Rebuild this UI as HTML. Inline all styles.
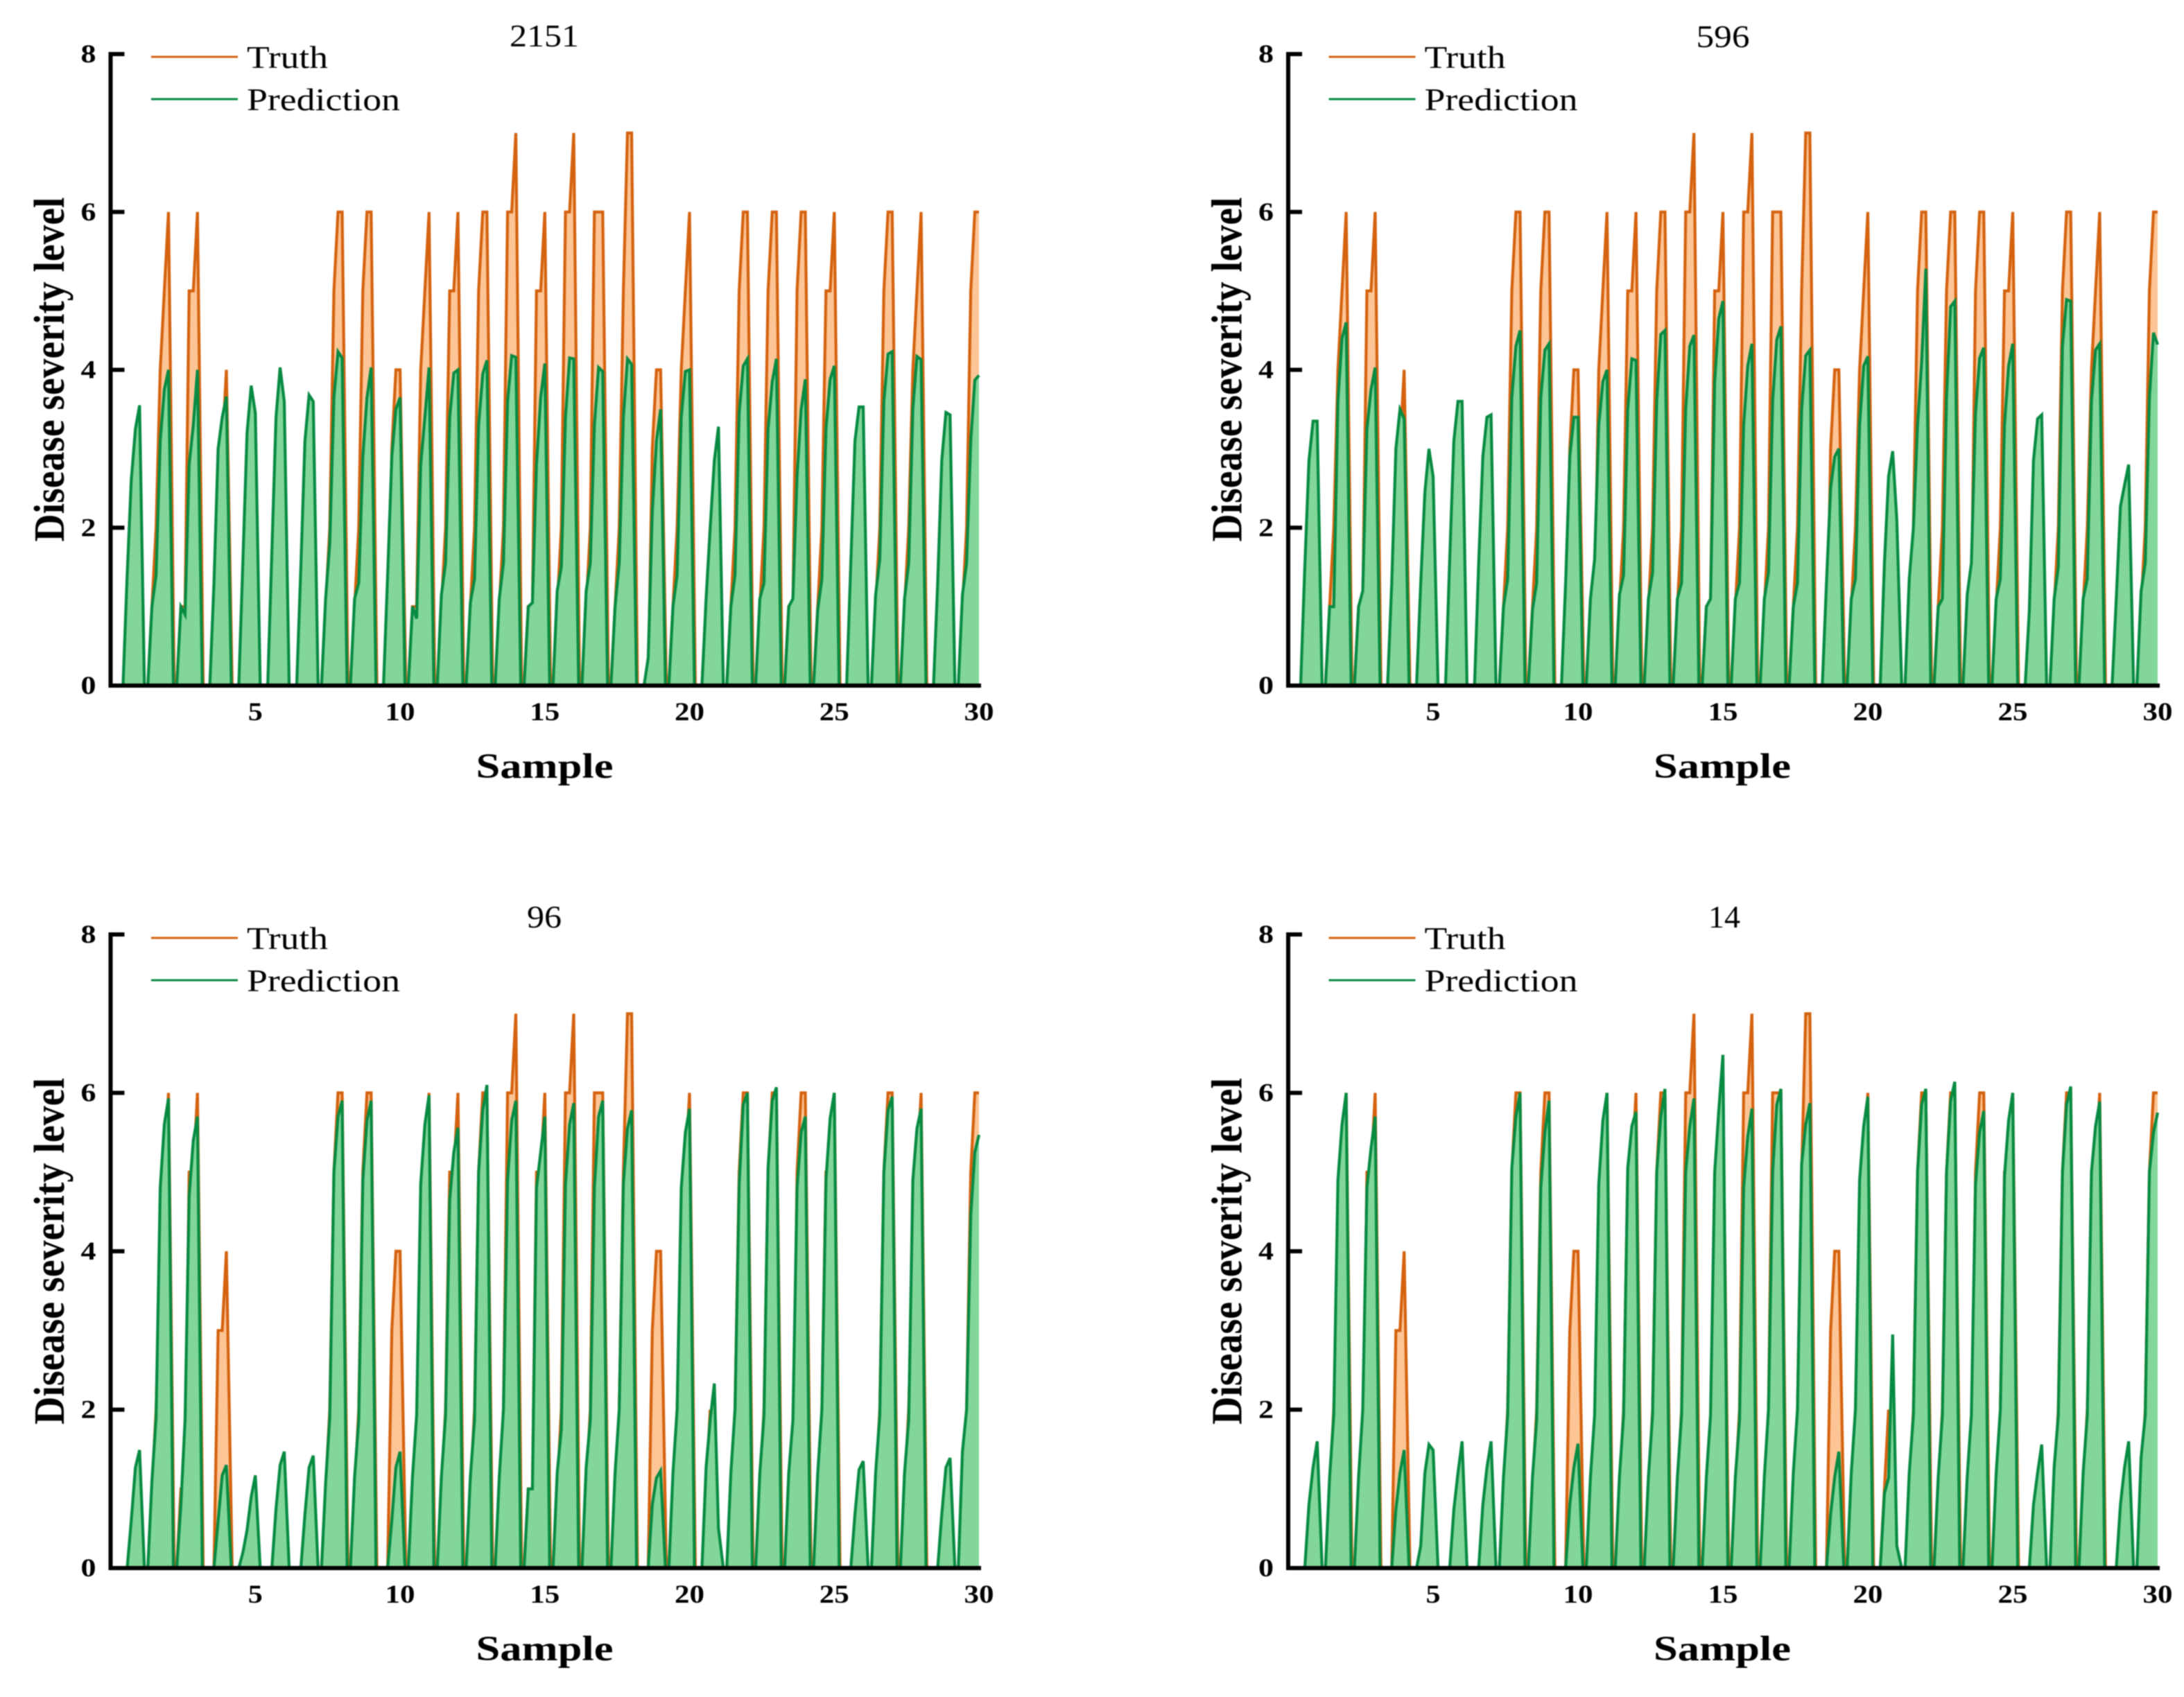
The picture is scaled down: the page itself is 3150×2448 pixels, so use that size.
<!DOCTYPE html>
<html lang="en">
<head>
<meta charset="utf-8">
<title>Disease severity level: truth vs prediction</title>
<style>
html,body{margin:0;padding:0;background:#fff;width:3150px;height:2448px;overflow:hidden}
#chart-root{display:block;filter:blur(0.8px)}
text{font-family:"Liberation Serif",serif;fill:#000}
</style>
</head>
<body>
<svg id="chart-root" xmlns="http://www.w3.org/2000/svg" width="3150" height="2448" viewBox="0 0 3150 2448"></svg>
<script>
// Values per sample at sub-steps -5,-4,-3,-2,-1,0 relative to the sample number.
const panelTitles = ["2151", "596", "96", "14"];
const xTickValues = [5, 10, 15, 20, 25, 30];
const yTickValues = [0, 2, 4, 6, 8];
const legendLabels = ["Truth", "Prediction"];
const xAxisLabel = "Sample";
const yAxisLabel = "Disease severity level";

const truthLevels = [
[0,0,0,0,0,0],[0,1,2,4,5,6],[0,1,1,5,5,6],[0,0,0,3,3,4],[0,0,0,0,0,0],[0,0,0,0,0,0],
[0,0,0,0,0,0],[0,1,2,5,6,6],[0,1,2,5,6,6],[0,0,0,3,4,4],[0,1,1,4,5,6],[0,1,2,5,5,6],
[0,1,2,5,6,6],[0,1,2,6,6,7],[0,1,1,5,5,6],[0,1,2,6,6,7],[0,1,2,6,6,6],[0,1,2,5,7,7],
[0,0,0,3,4,4],[0,1,2,4,5,6],[0,0,1,2,0,0],[0,1,2,5,6,6],[0,1,2,5,6,6],[0,1,1,5,6,6],
[0,1,2,5,5,6],[0,0,0,0,0,0],[0,1,2,5,6,6],[0,1,2,4,5,6],[0,0,0,0,0,0],[0,1,2,5,6,6]
];

const prediction2151 = [
[0,0,1.4,2.6,3.25,3.55],[0,1,1.4,3.1,3.75,4],[0,1,.9,2.8,3.3,4],[0,0,1.3,3,3.4,3.66],[0,0,1.6,3.2,3.8,3.45],[0,0,1.7,3.4,4.03,3.6],
[0,0,1.5,3.1,3.68,3.6],[0,1.1,1.8,3.65,4.23,4.15],[0,1.1,1.3,2.9,3.65,4.03],[0,0,1.4,2.9,3.5,3.65],[0,1,.85,2.8,3.4,4.03],[0,1.15,1.55,3.4,3.96,4],
[0,1.05,1.35,3.3,3.95,4.12],[0,1.1,1.55,3.6,4.18,4.16],[0,1,1.05,2.8,3.65,4.08],[0,1.2,1.5,3.4,4.15,4.14],[0,1.2,1.55,3.3,4.03,3.98],[0,1,1.55,3.4,4.14,4.07],
[0,0,.35,2.2,3.1,3.5],[0,1,1.4,3.4,3.98,4],[0,0,1.1,2,2.85,3.28],[0,1,1.4,3.45,4.05,4.14],[0,1.1,1.3,3.25,3.85,4.14],[0,1,1.1,2.65,3.5,3.88],
[0,.96,1.35,3.25,3.88,4.05],[0,0,1.55,3.1,3.53,3.53],[0,1.15,1.6,3.6,4.2,4.23],[0,1.1,1.55,3.5,4.17,4.13],[0,0,1.3,2.85,3.46,3.43],[0,1.15,1.55,3.1,3.87,3.93]
];

const prediction596 = [
[0,0,1.5,2.85,3.35,3.35],[0,1,1,3.6,4.4,4.6],[0,1,1.2,3.25,3.75,4.03],[0,0,1.3,3,3.5,3.38],[0,0,1.3,2.45,3,2.65],[0,0,1.6,3.1,3.6,3.6],
[0,0,1.55,2.9,3.4,3.43],[0,1,1.35,3.65,4.3,4.5],[0,.96,1.3,3.65,4.25,4.33],[0,0,1.3,2.9,3.4,3.4],[0,1.1,1.6,3.3,3.85,4],[0,1.15,1.4,3.5,4.14,4.12],
[0,1.1,1.43,3.6,4.45,4.5],[0,1.1,1.3,3.5,4.3,4.44],[0,1,1.1,3.85,4.65,4.87],[0,1.1,1.3,3.3,4.05,4.33],[0,1.1,1.43,3.6,4.38,4.55],[0,1,1.3,3.5,4.18,4.25],
[0,0,1.3,2.5,2.9,3],[0,1.1,1.35,3.3,4.05,4.17],[0,0,1.55,2.65,2.97,2.1],[0,1.35,2,3.3,4.1,5.28],[0,1,1.1,3.65,4.8,4.87],[0,1.15,1.55,3.45,4.15,4.28],
[0,1.1,1.35,3.3,4.05,4.33],[0,0,.95,2.85,3.38,3.43],[0,1.1,1.5,4.3,4.89,4.87],[0,1.1,1.35,3.6,4.25,4.33],[0,0,1.1,2.27,2.54,2.8],[0,1.2,1.55,3.65,4.47,4.32]
];

const prediction96 = [
[0,0,0,.6,1.27,1.49],[0,1.1,1.9,4.8,5.6,5.93],[0,.8,1.87,4.7,5.4,5.7],[0,0,0,.6,1.17,1.3],[0,0,.2,.48,.9,1.17],[0,0,0,.75,1.3,1.47],
[0,0,0,.68,1.27,1.42],[0,1.07,1.9,5,5.7,5.9],[0,1.15,1.87,4.9,5.65,5.9],[0,0,0,.6,1.27,1.47],[0,1.15,1.93,4.85,5.6,5.97],[0,1.15,1.93,4.65,5.25,5.56],
[0,1.15,1.87,5,5.78,6.1],[0,1.15,2,4.9,5.65,5.9],[0,1,1,4.8,5.25,5.7],[0,1.2,1.75,4.85,5.6,5.87],[0,1.27,1.87,4.8,5.7,5.9],[0,1.2,2,4.85,5.55,5.78],
[0,0,0,.8,1.14,1.23],[0,1.2,2,4.8,5.5,5.8],[0,0,1.27,1.87,2.33,.5],[0,1.2,2,4.85,5.85,6],[0,1.2,1.93,5.05,5.9,6.07],[0,1.2,1.87,4.8,5.5,5.7],
[0,1.2,2,4.9,5.68,6],[0,0,0,.68,1.24,1.35],[0,1.2,1.93,5,5.78,5.95],[0,1.2,1.87,4.9,5.55,5.8],[0,0,0,.68,1.27,1.39],[0,1.47,2,4.45,5.25,5.47]
];

const prediction14 = [
[0,0,0,.8,1.27,1.6],[0,1.15,1.93,4.9,5.6,6],[0,1.15,2,4.8,5.3,5.7],[0,0,0,.74,1.2,1.49],[0,0,.28,1.2,1.56,1.49],[0,0,0,.74,1.2,1.6],
[0,0,0,.8,1.27,1.6],[0,1.15,1.93,5.05,5.7,6],[0,1.15,1.87,4.8,5.5,5.9],[0,0,0,.8,1.27,1.57],[0,1.15,1.93,4.85,5.65,6],[0,1.15,1.93,5.05,5.58,5.76],
[0,1.15,1.93,5,5.7,6.05],[0,1.15,1.93,5,5.58,5.93],[0,1.15,1.93,5,5.78,6.48],[0,1.15,1.87,4.8,5.45,5.8],[0,1.15,2,5,5.85,6.05],[0,1.2,2,5.1,5.6,5.87],
[0,0,0,.68,1.15,1.47],[0,1.2,2,4.9,5.58,5.95],[0,0,.94,1.14,2.95,.28],[0,1.2,1.93,5,5.85,6.05],[0,1.15,1.93,5,5.9,6.14],[0,1.15,1.93,4.85,5.5,5.77],
[0,1.2,2,4.95,5.65,6],[0,0,0,.8,1.2,1.56],[0,1.27,1.93,5,5.85,6.08],[0,1.2,1.93,5,5.58,5.89],[0,0,0,.8,1.27,1.6],[0,1.4,1.93,5,5.5,5.75]
];

const predictionSets = [prediction2151, prediction596, prediction96, prediction14];
const subStepOffsets = [-5, -4, -3, -2, -1, 0];

const SVGNS = "http://www.w3.org/2000/svg";
const root = document.getElementById("chart-root");
const SUB_STEP = 1 / 7;
const TRUTH_FALL = 0.2;
const PRED_FALL = 0.17;
const ORANGE_LINE = "#d4620f";
const ORANGE_FILL = "#fdc595";
const GREEN_LINE = "#078a42";
const GREEN_FILL = "#82d69a";

// Plot frames: left = x-axis value 0, right = x-axis value 30, top = y 8, bottom = y 0.
const frames = [
  {left:159.5, right:1412, top:78, bottom:989, dx:0, dy:0, titleX:785, titleW:100, titleY:67, yTitleY:533, yTitleLen:497},
  {left:1858, right:3112, top:78, bottom:989, dx:1698.5, dy:0, titleX:2485, titleW:77, titleY:68, yTitleY:533, yTitleLen:497},
  {left:159.5, right:1412, top:1348, bottom:2262, dx:0, dy:1271, titleX:785, titleW:50, titleY:1338, yTitleY:1805, yTitleLen:500},
  {left:1858, right:3112, top:1348, bottom:2262, dx:1698.5, dy:1271, titleX:2487, titleW:46, titleY:1338, yTitleY:1805, yTitleLen:500}
];

function make(tag, attrs, parent) {
  const node = document.createElementNS(SVGNS, tag);
  for (const key in attrs) node.setAttribute(key, attrs[key]);
  parent.appendChild(node);
  return node;
}

function seriesPoints(row, sample, fall, xScale, yScale) {
  let first = row.findIndex(v => v > 0);
  if (first < 0) return null;
  first = Math.max(first - 1, 0);
  const pts = [];
  for (let i = first; i < row.length; i++) {
    pts.push([xScale(sample + subStepOffsets[i] * SUB_STEP), yScale(row[i])]);
  }
  if (sample < 30) pts.push([xScale(sample + fall), yScale(0)]);
  return pts;
}

function drawSeries(group, rows, fall, fillColour, lineColour, seriesName, xScale, yScale) {
  rows.forEach((row, idx) => {
    const sample = idx + 1;
    const pts = seriesPoints(row, sample, fall, xScale, yScale);
    if (!pts) return;
    const line = pts.map(p => p[0].toFixed(1) + "," + p[1].toFixed(1)).join(" ");
    const last = pts[pts.length - 1];
    const area = make("polygon", {points: line + " " + last[0].toFixed(1) + "," + yScale(0) + " " + pts[0][0].toFixed(1) + "," + yScale(0), fill: fillColour, stroke: "none"}, group);
    
    
    const stroke = make("polyline", {points: line, fill: "none", stroke: lineColour, "stroke-width": 4.2, "stroke-linejoin": "miter"}, group);
    
    
  });
}

frames.forEach((f, p) => {
  const xScale = v => f.left + (f.right - f.left) * v / 30;
  const yScale = v => f.bottom - (f.bottom - f.top) * v / 8;

  const panel = make("g", {}, root);
  
  

  const truthGroup = make("g", {}, panel);
  
  
  drawSeries(truthGroup, truthLevels, TRUTH_FALL, ORANGE_FILL, ORANGE_LINE, 'truth', xScale, yScale);

  const predGroup = make("g", {}, panel);
  
  
  drawSeries(predGroup, predictionSets[p], PRED_FALL, GREEN_FILL, GREEN_LINE, 'prediction', xScale, yScale);

  const yAxis = make("line", {x1: f.left, x2: f.left, y1: f.top - 3, y2: f.bottom + 3, stroke: "#000", "stroke-width": 6}, panel);
  
  
  const xAxis = make("line", {x1: f.left - 3, x2: f.right + 3, y1: f.bottom, y2: f.bottom, stroke: "#000", "stroke-width": 6}, panel);
  
  

  yTickValues.forEach(v => {
    if (v > 0) {
      const tick = make("line", {x1: f.left, x2: f.left + 20, y1: yScale(v), y2: yScale(v), stroke: "#000", "stroke-width": 6}, panel);
      
      
    }
    const label = make("text", {x: f.left - 21, y: yScale(v) + 12, "text-anchor": "end", "font-size": 37, "font-weight": "bold", textLength: 22, lengthAdjust: "spacingAndGlyphs"}, panel);
    label.textContent = String(v);
    
    
  });

  xTickValues.forEach(v => {
    const label = make("text", {x: xScale(v), y: f.bottom + 50, "text-anchor": "middle", "font-size": 37, "font-weight": "bold", textLength: v < 10 ? 21 : 43, lengthAdjust: "spacingAndGlyphs"}, panel);
    label.textContent = String(v);
    
    
  });

  const title = make("text", {x: f.titleX, y: f.titleY, "text-anchor": "middle", "font-size": 45, textLength: f.titleW, lengthAdjust: "spacingAndGlyphs"}, panel);
  title.textContent = panelTitles[p];
  
  

  const xTitle = make("text", {x: f.left + 626, y: f.bottom + 133, "text-anchor": "middle", "font-size": 51, "font-weight": "bold", textLength: 198, lengthAdjust: "spacingAndGlyphs"}, panel);
  xTitle.textContent = xAxisLabel;
  
  

  const yTitle = make("text", {x: 0, y: 0, transform: "translate(" + (92 + f.dx) + " " + f.yTitleY + ") rotate(-90)", "text-anchor": "middle", "font-size": 62, "font-weight": "bold", textLength: f.yTitleLen, lengthAdjust: "spacingAndGlyphs"}, panel);
  yTitle.textContent = yAxisLabel;
  
  

  const legendColours = [ORANGE_LINE, GREEN_LINE];
  const legendLineY = [82, 143];
  const legendTextY = [98, 159];
  const legendWidths = [117, 221];
  legendLabels.forEach((name, i) => {
    const swatch = make("line", {x1: 218 + f.dx, x2: 343 + f.dx, y1: legendLineY[i] + f.dy, y2: legendLineY[i] + f.dy, stroke: legendColours[i], "stroke-width": 3}, panel);
    
    
    const text = make("text", {x: 356 + f.dx, y: legendTextY[i] + f.dy, "font-size": 46, textLength: legendWidths[i], lengthAdjust: "spacingAndGlyphs"}, panel);
    text.textContent = name;
    
    
  });
});
</script>
</body>
</html>
